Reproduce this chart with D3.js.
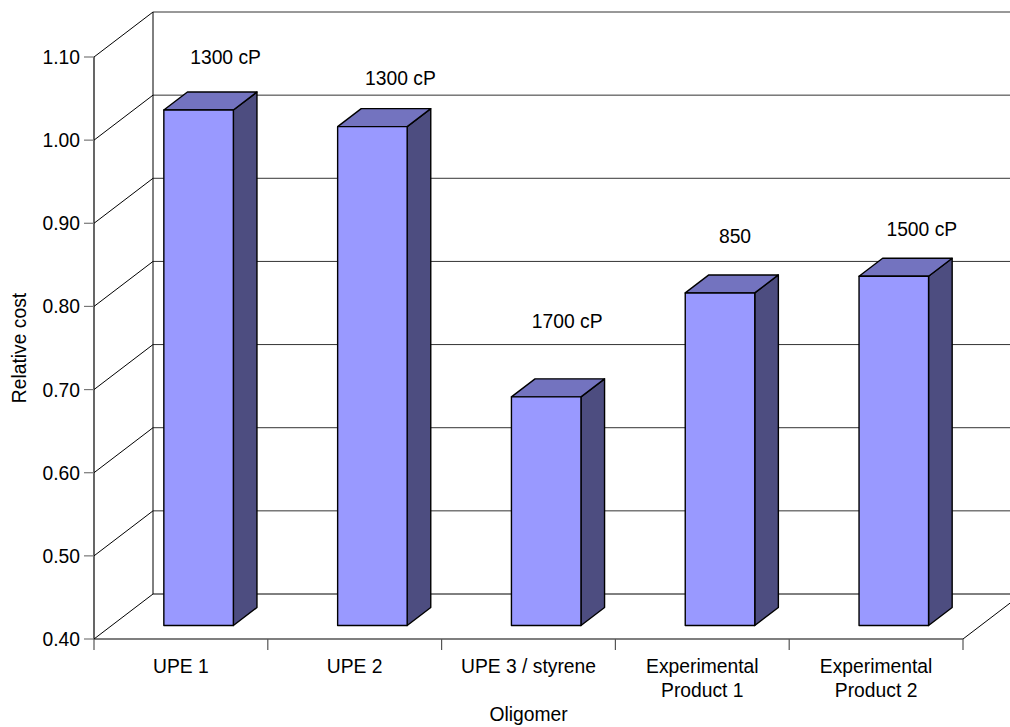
<!DOCTYPE html>
<html>
<head>
<meta charset="utf-8">
<script src="https://cdn.jsdelivr.net/npm/d3@7"></script>
<style>
  html, body { margin: 0; padding: 0; background: #fff; }
  svg { display: block; font-family: "Liberation Sans", Arial, sans-serif; }
</style>
</head>
<body>
<svg id="chart" width="1010" height="727"></svg>
<script>
// Relative cost of oligomers, with viscosity noted above each column
const categories = ["UPE 1", "UPE 2", "UPE 3 / styrene", "Experimental Product 1", "Experimental Product 2"];
const relativeCost = [1.02, 1.00, 0.675, 0.80, 0.82];
const viscosityLabels = ["1300 cP", "1300 cP", "1700 cP", "850", "1500 cP"];
const yTicks = [0.40, 0.50, 0.60, 0.70, 0.80, 0.90, 1.00, 1.10];
const yTitle = "Relative cost";
const xTitle = "Oligomer";

// Layout of the 3-D frame
const W = 1010, H = 727;
const plotLeft = 94, plotRight = 963, plotTop = 57, plotBottom = 639;
const depth = { dx: 59, dy: -45 };      // offset from front plane to back wall
const barDepth = [0.3, 0.7];            // front / back of each column as fraction of depth
const barWidthFrac = 0.4;
const fontSize = 19.3;
// hand placement of the viscosity notes relative to each column's front-top centre
const noteNudge = [[27, -46], [28, -42], [21, -69], [15, -50], [28, -40]];

const svg = d3.select("#chart");

const x = d3.scaleBand().domain(categories).range([plotLeft, plotRight]).paddingInner(0).paddingOuter(0);
const y = d3.scaleLinear().domain([0.4, 1.1]).range([plotBottom, plotTop]);

const off = t => [depth.dx * t, depth.dy * t];

// back wall + side wall gridlines
const grid = svg.append("g").attr("fill", "none").attr("stroke", "#000").attr("stroke-width", 1);
yTicks.forEach(v => {
  const yy = y(v);
  grid.append("line")
    .attr("x1", plotLeft).attr("y1", yy)
    .attr("x2", plotLeft + depth.dx).attr("y2", yy + depth.dy);
  grid.append("line")
    .attr("x1", plotLeft + depth.dx).attr("y1", yy + depth.dy)
    .attr("x2", W + 5).attr("y2", yy + depth.dy)
    .attr("stroke", v === 0.4 ? "#000" : "#333");
});
// back wall left edge
grid.append("line")
  .attr("x1", plotLeft + depth.dx).attr("y1", y(1.1) + depth.dy)
  .attr("x2", plotLeft + depth.dx).attr("y2", y(0.4) + depth.dy);
// floor right edge
grid.append("line")
  .attr("x1", plotRight).attr("y1", plotBottom)
  .attr("x2", plotRight + depth.dx).attr("y2", plotBottom + depth.dy);

// front axes
const axes = svg.append("g").attr("stroke", "#000").attr("stroke-width", 1.2);
axes.append("line").attr("x1", plotLeft).attr("y1", plotTop).attr("x2", plotLeft).attr("y2", plotBottom);
axes.append("line").attr("x1", plotLeft).attr("y1", plotBottom).attr("x2", plotRight).attr("y2", plotBottom);

// value axis ticks and labels
const yAxis = svg.append("g");
yTicks.forEach(v => {
  yAxis.append("line")
    .attr("x1", plotLeft - 10).attr("x2", plotLeft)
    .attr("y1", y(v)).attr("y2", y(v))
    .attr("stroke", "#777").attr("stroke-width", 1.2);
  yAxis.append("text")
    .attr("x", plotLeft - 14).attr("y", y(v))
    .attr("dy", "0.36em")
    .attr("text-anchor", "end")
    .attr("font-size", fontSize)
    .attr("fill", "#000")
    .text(d3.format(".2f")(v));
});

// category ticks
const edges = categories.map(c => x(c)).concat([plotRight]);
const xAxis = svg.append("g");
edges.forEach(ex => {
  xAxis.append("line")
    .attr("x1", ex).attr("x2", ex)
    .attr("y1", plotBottom).attr("y2", plotBottom + 11)
    .attr("stroke", "#555").attr("stroke-width", 1.2);
});

// category labels, wrapped to the band width
categories.forEach(c => {
  const cx = x(c) + x.bandwidth() / 2;
  const t = xAxis.append("text")
    .attr("x", cx).attr("y", 673)
    .attr("text-anchor", "middle")
    .attr("font-size", fontSize)
    .attr("fill", "#000");
  const words = c.split(" ");
  let line = [], lineNo = 0;
  let tspan = t.append("tspan").attr("x", cx).attr("y", 673);
  words.forEach(w => {
    line.push(w);
    tspan.text(line.join(" "));
    if (tspan.node().getComputedTextLength() > 160 && line.length > 1) {
      line.pop();
      tspan.text(line.join(" "));
      line = [w];
      lineNo++;
      tspan = t.append("tspan").attr("x", cx).attr("y", 673 + lineNo * 23.5).text(w);
    }
  });
});

// columns
const bars = svg.append("g").attr("stroke", "#000").attr("stroke-width", 1.4).attr("stroke-linejoin", "round");
categories.forEach((c, i) => {
  const v = relativeCost[i];
  const bw = x.bandwidth() * barWidthFrac;
  const cx = x(c) + x.bandwidth() / 2;
  const [fx, fy] = off(barDepth[0]);
  const [bx, by] = off(barDepth[1]);
  const x0 = cx - bw / 2 + fx, x1 = cx + bw / 2 + fx;
  const yTop = y(v) + fy, yBot = y(0.4) + fy;
  const ddx = bx - fx, ddy = by - fy;

  // right side
  bars.append("path")
    .attr("fill", "#4d4d80")
    .attr("d", `M${x1},${yTop}L${x1 + ddx},${yTop + ddy}L${x1 + ddx},${yBot + ddy}L${x1},${yBot}Z`);
  // top
  bars.append("path")
    .attr("fill", "#7373bf")
    .attr("d", `M${x0},${yTop}L${x0 + ddx},${yTop + ddy}L${x1 + ddx},${yTop + ddy}L${x1},${yTop}Z`);
  // front
  bars.append("rect")
    .attr("fill", "#9999ff")
    .attr("x", x0).attr("y", yTop)
    .attr("width", bw).attr("height", yBot - yTop);

  // viscosity note
  svg.append("text")
    .attr("x", cx + fx + noteNudge[i][0])
    .attr("y", yTop + noteNudge[i][1])
    .attr("text-anchor", "middle")
    .attr("font-size", fontSize)
    .attr("fill", "#000")
    .text(viscosityLabels[i]);
});

// axis titles
svg.append("text")
  .attr("transform", `translate(26,${(plotTop + plotBottom) / 2}) rotate(-90)`)
  .attr("text-anchor", "middle")
  .attr("font-size", fontSize)
  .attr("fill", "#000")
  .text(yTitle);

svg.append("text")
  .attr("x", (plotLeft + plotRight) / 2).attr("y", 721)
  .attr("text-anchor", "middle")
  .attr("font-size", fontSize)
  .attr("fill", "#000")
  .text(xTitle);
</script>
</body>
</html>
